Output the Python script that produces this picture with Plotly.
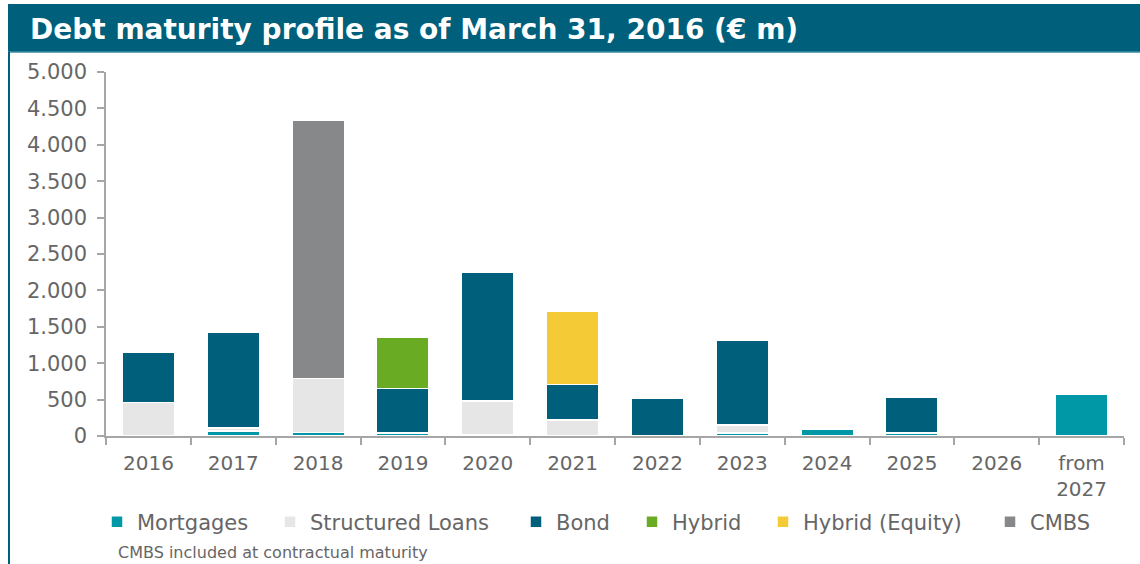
import plotly.graph_objects as go

categories = ["2016", "2017", "2018", "2019", "2020", "2021", "2022", "2023", "2024", "2025", "2026", "from<br>2027"]
mortgages = [0, 70, 50, 40, 20, 0, 0, 40, 90, 40, 0, 570]
structured_loans = [460, 40, 740, 10, 460, 220, 0, 110, 0, 0, 0, 0]
bond = [690, 1310, 0, 600, 1770, 490, 520, 1170, 0, 490, 0, 0]
hybrid = [0, 0, 0, 700, 0, 0, 0, 0, 0, 0, 0, 0]
hybrid_equity = [0, 0, 0, 0, 0, 1000, 0, 0, 0, 0, 0, 0]
cmbs = [0, 0, 3550, 0, 0, 0, 0, 0, 0, 0, 0, 0]

series = [
    ("Mortgages", mortgages, "#0098A6"),
    ("Structured Loans", structured_loans, "#E6E6E6"),
    ("Bond", bond, "#005F7A"),
    ("Hybrid", hybrid, "#6AAB24"),
    ("Hybrid (Equity)", hybrid_equity, "#F4CB37"),
    ("CMBS", cmbs, "#87888A"),
]
# left pixel position of each legend entry's text
legend_text_px = [137, 310, 556, 672, 803, 1030]

FONT = "DejaVu Sans"
W, H = 1140, 564
L, R, T, B = 106, 16, 72, 128
pw = W - L - R
ph = H - T - B

def px(x):
    return (x - L) / pw

def py(y):
    return (H - B - y) / ph

fig = go.Figure()
legend_layouts = {}
for i, (name, vals, col) in enumerate(series):
    lg = "legend" if i == 0 else f"legend{i + 1}"
    fig.add_trace(go.Bar(
        x=categories, y=vals, name=name, legend=lg,
        marker=dict(color=col, line=dict(color="white", width=1.5)),
        width=0.62,
    ))
    legend_layouts[lg] = dict(
        orientation="h", x=px(legend_text_px[i] - 40), xanchor="left",
        y=py(522), yanchor="middle", bgcolor="rgba(0,0,0,0)",
        font=dict(size=21, color="#666666"), itemclick=False, itemwidth=30,
    )

fig.update_layout(
    barmode="stack",
    width=W, height=H,
    margin=dict(l=L, r=R, t=T, b=B),
    plot_bgcolor="white", paper_bgcolor="white",
    separators=",.",
    font=dict(family=FONT, color="#666666", size=20),
    showlegend=True,
    xaxis=dict(showline=True, linecolor="#A6A6A6", linewidth=1.5, ticks="outside",
               tickson="boundaries", ticklen=7, tickcolor="#A6A6A6", tickwidth=1.5,
               ticklabelstandoff=8,
               tickfont=dict(size=20, color="#666666"), showgrid=False),
    yaxis=dict(range=[0, 5000], dtick=500, tickformat=",.0f", showline=True,
               linecolor="#A6A6A6", linewidth=1.5, ticks="outside", ticklen=7,
               tickcolor="#A6A6A6", tickwidth=1.5, showgrid=False, zeroline=False,
               ticklabelstandoff=6,
               tickfont=dict(size=21, color="#666666")),
    shapes=[
        dict(type="rect", xref="paper", yref="paper", x0=px(8), x1=px(1145), y0=py(52), y1=py(4),
             fillcolor="#005F7A", line=dict(width=0), layer="above"),
        dict(type="line", xref="paper", yref="paper", x0=px(8), x1=px(1145), y0=py(52), y1=py(52),
             line=dict(color="#3A8CA3", width=1.5)),
        dict(type="line", xref="paper", yref="paper", x0=px(9), x1=px(9), y0=py(52), y1=py(570),
             line=dict(color="#005F7A", width=2)),
    ],
    annotations=[
        dict(text="<b>Debt maturity profile as of March 31, 2016 (€ m)</b>", xref="paper", yref="paper",
             x=px(28), y=py(30), xanchor="left", yanchor="middle", showarrow=False,
             font=dict(family=FONT, size=28, color="white")),
        dict(text="CMBS included at contractual maturity", xref="paper", yref="paper",
             x=px(116), y=py(552), xanchor="left", yanchor="middle", showarrow=False,
             font=dict(family=FONT, size=16, color="#666666")),
    ],
    **legend_layouts,
)

fig.write_html("out.html", config={"displayModeBar": False},
               post_script="document.body.style.margin='0';document.body.style.overflow='hidden';")
